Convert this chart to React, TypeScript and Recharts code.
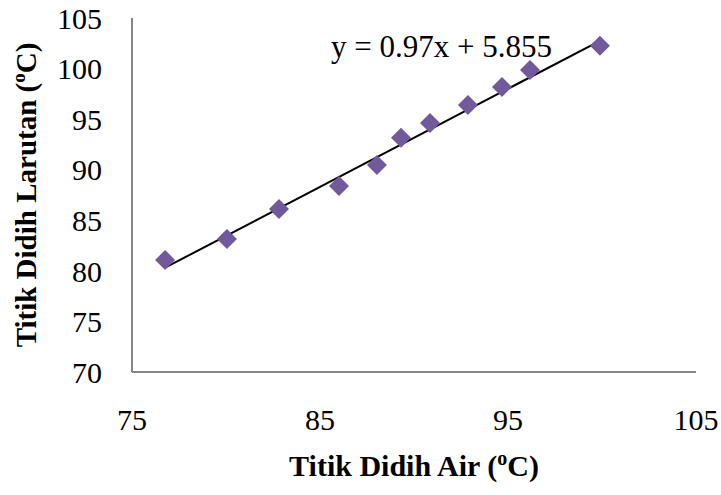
import {
  Customized,
  ReferenceLine,
  Scatter,
  ScatterChart,
  XAxis,
  YAxis,
  Label,
} from "recharts";

const airBoiling = [76.76, 80.05, 82.82, 86.01, 88.03, 89.31, 90.85, 92.87, 94.68, 96.17, 99.89];
const solutionBoiling = [81.08, 83.16, 86.12, 88.4, 90.47, 93.15, 94.63, 96.41, 98.19, 99.87, 102.25];
const xTicks = [75, 85, 95, 105];
const yTicks = [70, 75, 80, 85, 90, 95, 100, 105];
const slope = 0.97;
const intercept = 5.855;

const serif = "Liberation Serif, Times New Roman, serif";
const axisGray = "#868686";
const marker = "#715a9c";

const points = airBoiling.map((x, i) => ({ x, y: solutionBoiling[i] }));
const xMin = Math.min(...airBoiling);
const xMax = Math.max(...airBoiling);

function Diamond(props: any) {
  const { cx, cy } = props;
  const r = 10;
  return (
    <path
      d={`M${cx},${cy - r} L${cx + r},${cy} L${cx},${cy + r} L${cx - r},${cy} Z`}
      fill={marker}
    />
  );
}

function Equation() {
  return (
    <text x={331} y={57} style={{ fontFamily: serif, fontSize: 31 }} fill="#000">
      y = 0.97x + 5.855
    </text>
  );
}

function YTitle(props: any) {
  const { viewBox } = props;
  const x = viewBox.x + 36;
  const y = viewBox.y + viewBox.height / 2;
  return (
    <text
      x={x}
      y={y}
      transform={`rotate(-90, ${x}, ${y})`}
      textAnchor="middle"
      style={{ fontFamily: serif, fontWeight: "bold", fontSize: 29 }}
      fill="#000"
    >
      Titik Didih Larutan (
      <tspan fontSize={19} dy={-11}>o</tspan>
      <tspan dy={11}>C)</tspan>
    </text>
  );
}

function XTitle(props: any) {
  const { viewBox } = props;
  const x = viewBox.x + viewBox.width / 2;
  const y = viewBox.y + 104;
  return (
    <text
      x={x}
      y={y}
      textAnchor="middle"
      style={{ fontFamily: serif, fontWeight: "bold", fontSize: 30 }}
      fill="#000"
    >
      Titik Didih Air (
      <tspan fontSize={20} dy={-11}>o</tspan>
      <tspan dy={11}>C)</tspan>
    </text>
  );
}

const tickStyle = { fontSize: 30, fontFamily: serif, fill: "#000", style: { fontFamily: serif } };

export default function App() {
  return (
    <div
      style={{
        position: "absolute",
        left: 0,
        top: 0,
        background: "#fff",
        fontFamily: serif,
      }}
    >
      <ScatterChart
        width={721}
        height={495}
        margin={{ top: 18, right: 25, left: 0, bottom: 0 }}
        style={{ fontFamily: serif }}
      >
        <XAxis
          type="number"
          dataKey="x"
          domain={[75, 105]}
          ticks={xTicks}
          allowDataOverflow
          height={123}
          tickSize={0}
          tickMargin={37}
          tick={tickStyle}
          axisLine={{ stroke: axisGray, strokeWidth: 2 }}
          tickLine={false}
        >
          <Label content={<XTitle />} />
        </XAxis>
        <YAxis
          type="number"
          dataKey="y"
          domain={[70, 105]}
          ticks={yTicks}
          allowDataOverflow
          width={132}
          tickSize={0}
          tickMargin={30}
          tick={tickStyle}
          axisLine={{ stroke: axisGray, strokeWidth: 2 }}
          tickLine={false}
        >
          <Label content={<YTitle />} />
        </YAxis>
        <ReferenceLine
          segment={[
            { x: xMin, y: slope * xMin + intercept },
            { x: xMax, y: slope * xMax + intercept },
          ]}
          stroke="#000"
          strokeWidth={2}
          ifOverflow="visible"
        />
        <Scatter data={points} shape={<Diamond />} isAnimationActive={false} />
        <Customized component={<Equation />} />
      </ScatterChart>
    </div>
  );
}
